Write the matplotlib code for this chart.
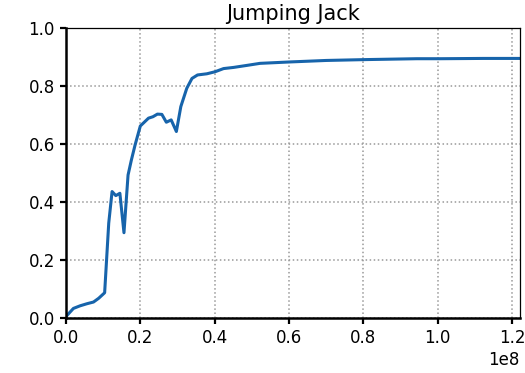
import matplotlib
matplotlib.use("Agg")
import matplotlib.pyplot as plt
import numpy as np

# Training steps (in units of 1e8) and success values
steps_1e8 = [0.0, 0.020, 0.038, 0.056, 0.074, 0.088, 0.104, 0.115, 0.124, 0.134,
             0.145, 0.156, 0.167, 0.176, 0.186, 0.200, 0.222, 0.234, 0.246, 0.258,
             0.270, 0.283, 0.297, 0.309, 0.325, 0.339, 0.354, 0.379, 0.401, 0.424,
             0.451, 0.487, 0.522, 0.605, 0.70, 0.807, 0.944, 1.008, 1.123, 1.23]
score = [0.005, 0.033, 0.042, 0.049, 0.055, 0.068, 0.087, 0.327, 0.436, 0.422,
         0.430, 0.294, 0.493, 0.545, 0.597, 0.662, 0.689, 0.694, 0.703, 0.702,
         0.675, 0.683, 0.643, 0.729, 0.792, 0.826, 0.838, 0.842, 0.849, 0.860,
         0.864, 0.871, 0.878, 0.883, 0.888, 0.891, 0.894, 0.894, 0.895, 0.895]

title = "Jumping Jack"


def main():
    steps = np.array(steps_1e8) * 1e8

    fig = plt.figure(figsize=(5.25, 3.73), dpi=100)
    ax = fig.add_axes([0.1257, 0.1475, 0.8643, 0.7775])

    ax.plot(steps, score, color="#1764ab", linewidth=2.2)

    ax.set_xlim(0, 1.221e8)
    ax.set_ylim(0, 1.0)
    ax.set_title(title, fontsize=15)
    ax.grid(True, linestyle=":", color="#999999", linewidth=1.1)

    # thick left/bottom spines, thin top/right
    ax.spines["left"].set_linewidth(1.8)
    ax.spines["bottom"].set_linewidth(1.8)
    ax.spines["top"].set_linewidth(0.9)
    ax.spines["right"].set_linewidth(0.9)
    ax.tick_params(labelsize=12, width=1.6, length=4.5)
    ax.xaxis.get_offset_text().set_fontsize(12)

    fig.savefig("out.png", dpi=100)


if __name__ == "__main__":
    main()
